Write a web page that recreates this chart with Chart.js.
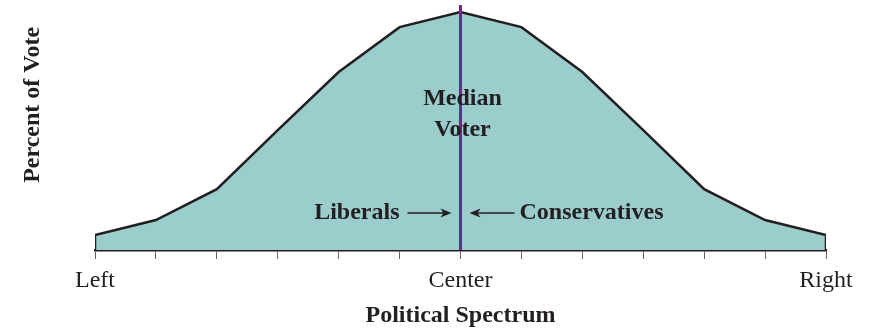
<!DOCTYPE html>
<html>
<head>
<meta charset="utf-8">
<title>Median Voter</title>
<script src="https://cdn.jsdelivr.net/npm/chart.js@4/dist/chart.umd.min.js"></script>
<style>
	body { margin: 0; background: #fff; }
	canvas { display: block; }
</style>
</head>
<body>
<canvas id="myChart" width="872" height="330"></canvas>
<script>
// positions along the spectrum and the share of voters at each one
const positions = [0, 1, 2, 3, 4, 5, 6, 7, 8, 9, 10, 11, 12];
const voteShare = [6.3, 12.6, 25.6, 50.4, 74.8, 93.7, 100, 93.7, 74.8, 50.4, 25.6, 12.6, 6.3];
const tickLabels = ['Left', '', '', '', '', '', 'Center', '', '', '', '', '', 'Right'];
const medianPosition = 6;
const medianTop = 103;

window.onload = function () {
	const serif = "'Liberation Serif', 'Times New Roman', serif";
	const ink = '#231f20';

	// closed outline: drop to zero at both ends so the sides get a border too
	const first = positions[0];
	const last = positions[positions.length - 1];
	const curve = [{ x: first, y: 0 }]
		.concat(positions.map((p, i) => ({ x: p, y: voteShare[i] })))
		.concat([{ x: last, y: 0 }]);

	const arrow = (ctx, x1, x2, y) => {
		const dir = Math.sign(x2 - x1);
		ctx.beginPath();
		ctx.moveTo(x1, y);
		ctx.lineTo(x2 - dir * 6, y);
		ctx.stroke();
		ctx.beginPath();
		ctx.moveTo(x2, y);
		ctx.lineTo(x2 - dir * 11, y - 4.5);
		ctx.lineTo(x2 - dir * 8, y);
		ctx.lineTo(x2 - dir * 11, y + 4.5);
		ctx.closePath();
		ctx.fill();
	};

	const labels = {
		id: 'labels',
		afterDraw(chart) {
			const { ctx } = chart;
			const xs = chart.scales.x;
			const ys = chart.scales.y;
			const mx = xs.getPixelForValue(medianPosition);

			ctx.save();
			ctx.fillStyle = ink;
			ctx.strokeStyle = ink;
			ctx.lineWidth = 1.5;
			ctx.font = `bold 24px ${serif}`;
			ctx.textBaseline = 'middle';

			ctx.textAlign = 'center';
			ctx.fillText('Median', mx + 2, ys.getPixelForValue(63.5));
			ctx.fillText('Voter', mx + 2, ys.getPixelForValue(50.4));

			const ly = ys.getPixelForValue(15.6);
			ctx.textAlign = 'right';
			ctx.fillText('Liberals', mx - 61, ly);
			arrow(ctx, mx - 53, mx - 9, ly);
			ctx.textAlign = 'left';
			ctx.fillText('Conservatives', mx + 59, ly);
			arrow(ctx, mx + 54, mx + 9, ly);

			// y axis title
			ctx.translate(33, ys.getPixelForValue(61));
			ctx.rotate(-Math.PI / 2);
			ctx.textAlign = 'center';
			ctx.fillText('Percent of Vote', 0, 0);
			ctx.restore();
		}
	};

	const ctx = document.getElementById('myChart').getContext('2d');

	new Chart(ctx, {
		type: 'line',
		data: {
			datasets: [{
				label: 'Median voter',
				data: [{ x: medianPosition, y: 0 }, { x: medianPosition, y: medianTop }],
				borderColor: '#6d2a80',
				borderWidth: 3,
				pointRadius: 0,
				fill: false
			}, {
				label: 'Percent of vote',
				data: curve,
				borderColor: ink,
				borderWidth: 2.5,
				backgroundColor: '#9bcdcd',
				pointRadius: 0,
				tension: 0,
				fill: 'origin'
			}]
		},
		options: {
			responsive: false,
			animation: false,
			layout: { padding: { top: 5, right: 46, left: 0, bottom: 0 } },
			plugins: {
				legend: { display: false },
				tooltip: { enabled: false }
			},
			scales: {
				x: {
					type: 'linear',
					min: first,
					max: last,
					afterFit: s => { s.height = 80; },
					ticks: {
						stepSize: 1,
						autoSkip: false,
						maxRotation: 0,
						padding: 7,
						color: ink,
						font: { family: serif, size: 24 },
						callback: v => tickLabels[v] || ''
					},
					grid: {
						drawOnChartArea: false,
						drawTicks: true,
						tickLength: 9,
						color: '#666'
					},
					border: { color: ink, width: 2.5 },
					title: {
						display: true,
						text: 'Political Spectrum',
						color: ink,
						font: { family: serif, size: 24, weight: 'bold' },
						padding: { top: 0, bottom: 0 }
					}
				},
				y: {
					min: 0,
					max: medianTop,
					afterFit: s => { s.width = 95; },
					ticks: { display: false },
					grid: { display: false },
					border: { display: false }
				}
			}
		},
		plugins: [labels]
	});
};
</script>
</body>
</html>
